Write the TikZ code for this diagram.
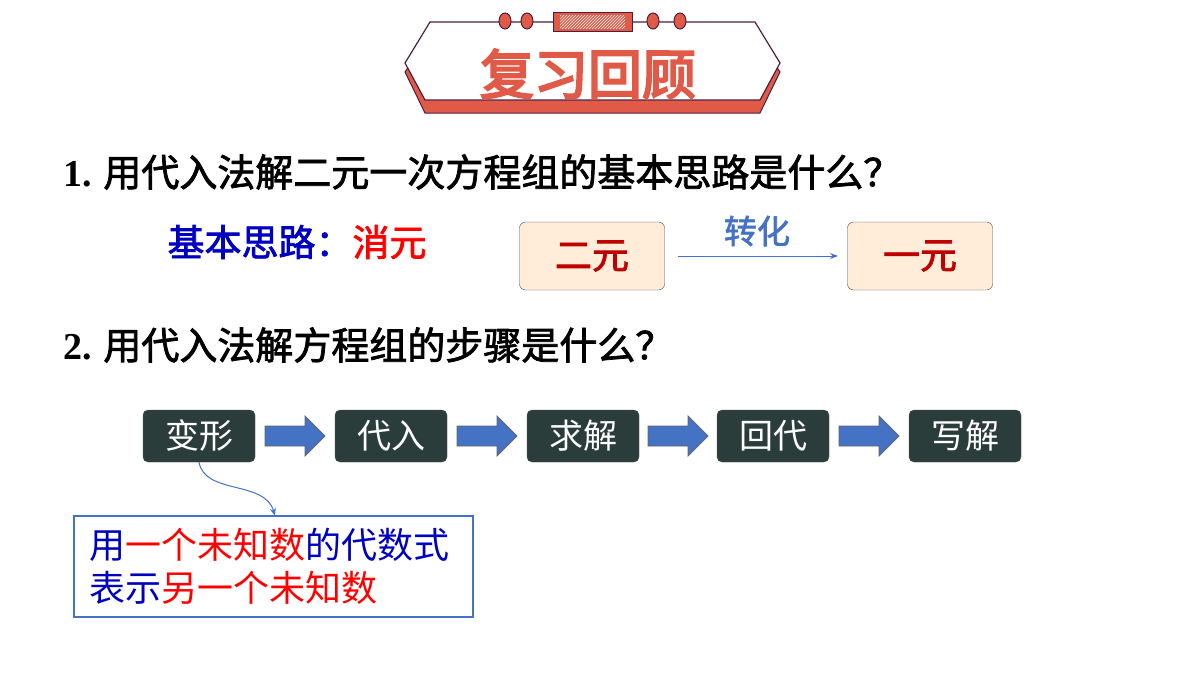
\documentclass[tikz,border=0pt]{standalone}
\usepackage{fontspec}
\usetikzlibrary{patterns,arrows.meta}
\newfontfamily\cjk{Noto Sans CJK SC}
\newfontfamily\cjkb[FakeBold=4]{Noto Sans CJK SC}
\newfontfamily\cjkm[FakeBold=2]{Noto Sans CJK SC}
\newfontfamily\ser{Liberation Serif}
\definecolor{tred}{HTML}{E05A47}
\definecolor{tpur}{HTML}{4A2040}
\definecolor{sblue}{HTML}{4472C4}
\definecolor{dblue}{HTML}{0000C0}
\definecolor{stepc}{HTML}{2B3D3A}
\begin{document}
\begin{tikzpicture}[x=1pt,y=-1pt,
  stepbox/.style={draw=black!70,fill=stepc,rounded corners=5pt,minimum width=112pt,minimum height=52pt,text=white,font=\cjk\fontsize{34}{34}\selectfont},
  peach/.style={draw=black!70,fill=orange!15,rounded corners=6pt,minimum width=145pt,minimum height=68pt,text=red!75!black,font=\cjkm\fontsize{37}{37}\selectfont},
  q/.style={anchor=west,font=\cjkm\fontsize{38}{38}\selectfont},
  blkarrow/.style={fill=sblue,draw=black!60,line width=0.8pt}]
\useasboundingbox (0,0) rectangle (1200,675);
% banner
\fill[tred,draw=tpur,line width=1pt] (430,35)--(755,35)--(780,72)--(760,113)--(425,113)--(405,72)--cycle;
\filldraw[fill=white,draw=tpur,line width=1.2pt] (430,22)--(755,22)--(780,63)--(760,100)--(425,100)--(405,63)--cycle;
\foreach \cx in {505,527,653,680} \filldraw[fill=tred,draw=tpur,line width=1pt] (\cx,21) ellipse (6 and 8);
\filldraw[fill=tred,draw=tpur,line width=1pt] (553,12) rectangle (632,31);
\fill[pattern=north east lines,pattern color=white] (560,15) rectangle (625,28);
\node[font=\cjkb\fontsize{54}{54}\selectfont,text=tred] (title) at (588,74) {复习回顾};
% q1
\node[q] (q1) at (60,172) {{\ser\bfseries 1.} 用代入法解二元一次方程组的基本思路是什么？};
\node[anchor=west,font=\cjkm\fontsize{37}{37}\selectfont] (sl) at (164,242) {\textcolor{dblue}{基本思路：}\textcolor{red}{消元}};
\node[peach] (a) at (592,256) {二元};
\node[peach] (b) at (920,256) {一元};
\coordinate (as) at (678,256);
\coordinate (ae) at (838,256);
\draw[sblue,-{Stealth[length=8pt]},line width=1pt] (as) -- (ae);
\node[text=sblue,font=\cjkm\fontsize{33}{33}\selectfont] (zh) at (757,231) {转化};
% q2
\node[q] (q2) at (60,345) {{\ser\bfseries 2.} 用代入法解方程组的步骤是什么？};
\node[stepbox] (s1) at (199,436) {变形};
\node[stepbox] (s2) at (391,436) {代入};
\node[stepbox] (s3) at (583,436) {求解};
\node[stepbox] (s4) at (773,436) {回代};
\node[stepbox] (s5) at (965,436) {写解};
\foreach \ax in {265,457,648,839}
  \draw[blkarrow] (\ax,426)--(\ax+40,426)--(\ax+40,416)--(\ax+60,436)--(\ax+40,456)--(\ax+40,446)--(\ax,446)--cycle;
\node[draw=sblue,line width=1.2pt,minimum width=399pt,minimum height=101pt] (box) at (273.5,566.5) {};
\coordinate (bt) at (275,516);
\draw[sblue,line width=1pt,-{Stealth[length=8pt]}] (s1.south) .. controls (205,495) and (265,480) .. (bt);
\node[anchor=west,font=\cjk\fontsize{36}{36}\selectfont,text=dblue] (t1) at (86,545) {用\textcolor{red}{一个未知数}的代数式};
\node[anchor=west,font=\cjk\fontsize{36}{36}\selectfont,text=dblue] (t2) at (86,588) {表示\textcolor{red}{另一个未知数}};
\end{tikzpicture}
\end{document}
